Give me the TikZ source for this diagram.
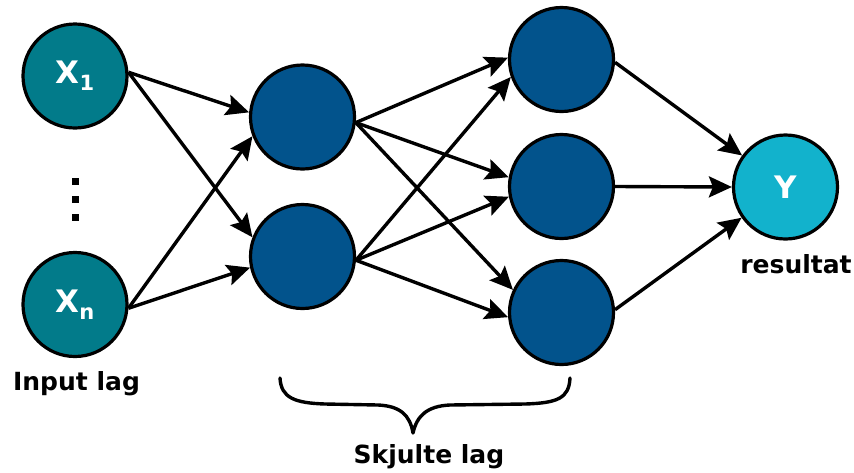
\documentclass[tikz,border=0pt]{standalone}
\usepackage{fontspec}
\setmainfont{DejaVu Sans}
\usetikzlibrary{arrows.meta}
\definecolor{inputc}{RGB}{2,123,138}
\definecolor{hiddenc}{RGB}{2,83,140}
\definecolor{outc}{RGB}{18,178,204}
\tikzset{
  neuron/.style={circle, draw=black, line width=3.2pt, minimum size=104pt, inner sep=0pt,
    text=white, font=\bfseries\fontsize{31}{31}\selectfont},
  conn/.style={line width=3.4pt, -{Stealth[length=23pt,width=21pt,inset=4pt]}},
  lbl/.style={font=\bfseries\fontsize{25}{25}\selectfont, anchor=base, inner sep=0pt},
  bracestyle/.style={line width=3.4pt, line cap=round, line join=round},
}
\newcommand{\subtxt}[1]{\raisebox{-7pt}{\fontsize{21}{21}\selectfont #1}}
\begin{document}
\begin{tikzpicture}[x=1pt,y=-1pt]
\useasboundingbox (0,0) rectangle (854,472);
% input layer
\node[neuron, fill=inputc] (x1) at (75,76) {X\subtxt{1}};
\node[neuron, fill=inputc] (xn) at (75,304.5) {X\subtxt{n}};
\fill (71.5,177.5) rectangle (78.5,184.5);
\fill (71.5,195.5) rectangle (78.5,202.5);
\fill (71.5,213.5) rectangle (78.5,220.5);
% hidden layer 1
\node[neuron, fill=hiddenc] (a1) at (302.5,117) {};
\node[neuron, fill=hiddenc] (a2) at (302.5,256.5) {};
% hidden layer 2
\node[neuron, fill=hiddenc] (b1) at (561.5,59.5) {};
\node[neuron, fill=hiddenc] (b2) at (561.5,186.5) {};
\node[neuron, fill=hiddenc] (b3) at (561.5,312.5) {};
% output
\node[neuron, fill=outc] (y) at (785.5,187) {Y};
% connectors
\draw[conn] (x1.4) -- (a1.175);
\draw[conn] (x1.4) -- (a2.159);
\draw[conn] (xn.-4) -- (a1.201);
\draw[conn] (xn.-4) -- (a2.192);
\draw[conn] (a1.-6) -- (b1.178);
\draw[conn] (a1.-6) -- (b2.170);
\draw[conn] (a1.-6) -- (b3.155);
\draw[conn] (a2.-4) -- (b1.199);
\draw[conn] (a2.-4) -- (b2.191);
\draw[conn] (a2.-4) -- (b3.185);
\draw[conn] (b1.-3) -- (y.144);
\draw[conn] (b2.0) -- (y.180);
\draw[conn] (b3.3) -- (y.215);
% brace
\draw[bracestyle] (280,378) .. controls (281,398) and (295,403) .. (325,404)
  -- (378,405) .. controls (400,406) and (410,415) .. (413,433)
  .. controls (417,415) and (428,406) .. (450,405)
  -- (525,404) .. controls (558,403) and (569,398) .. (570,378);
% labels
\node[lbl] (inlbl) at (76.5,390) {Input lag};
\node[lbl] (outlbl) at (796,273) {resultat};
\node[lbl] (hidlbl) at (429,463) {Skjulte lag};
\end{tikzpicture}
\end{document}
